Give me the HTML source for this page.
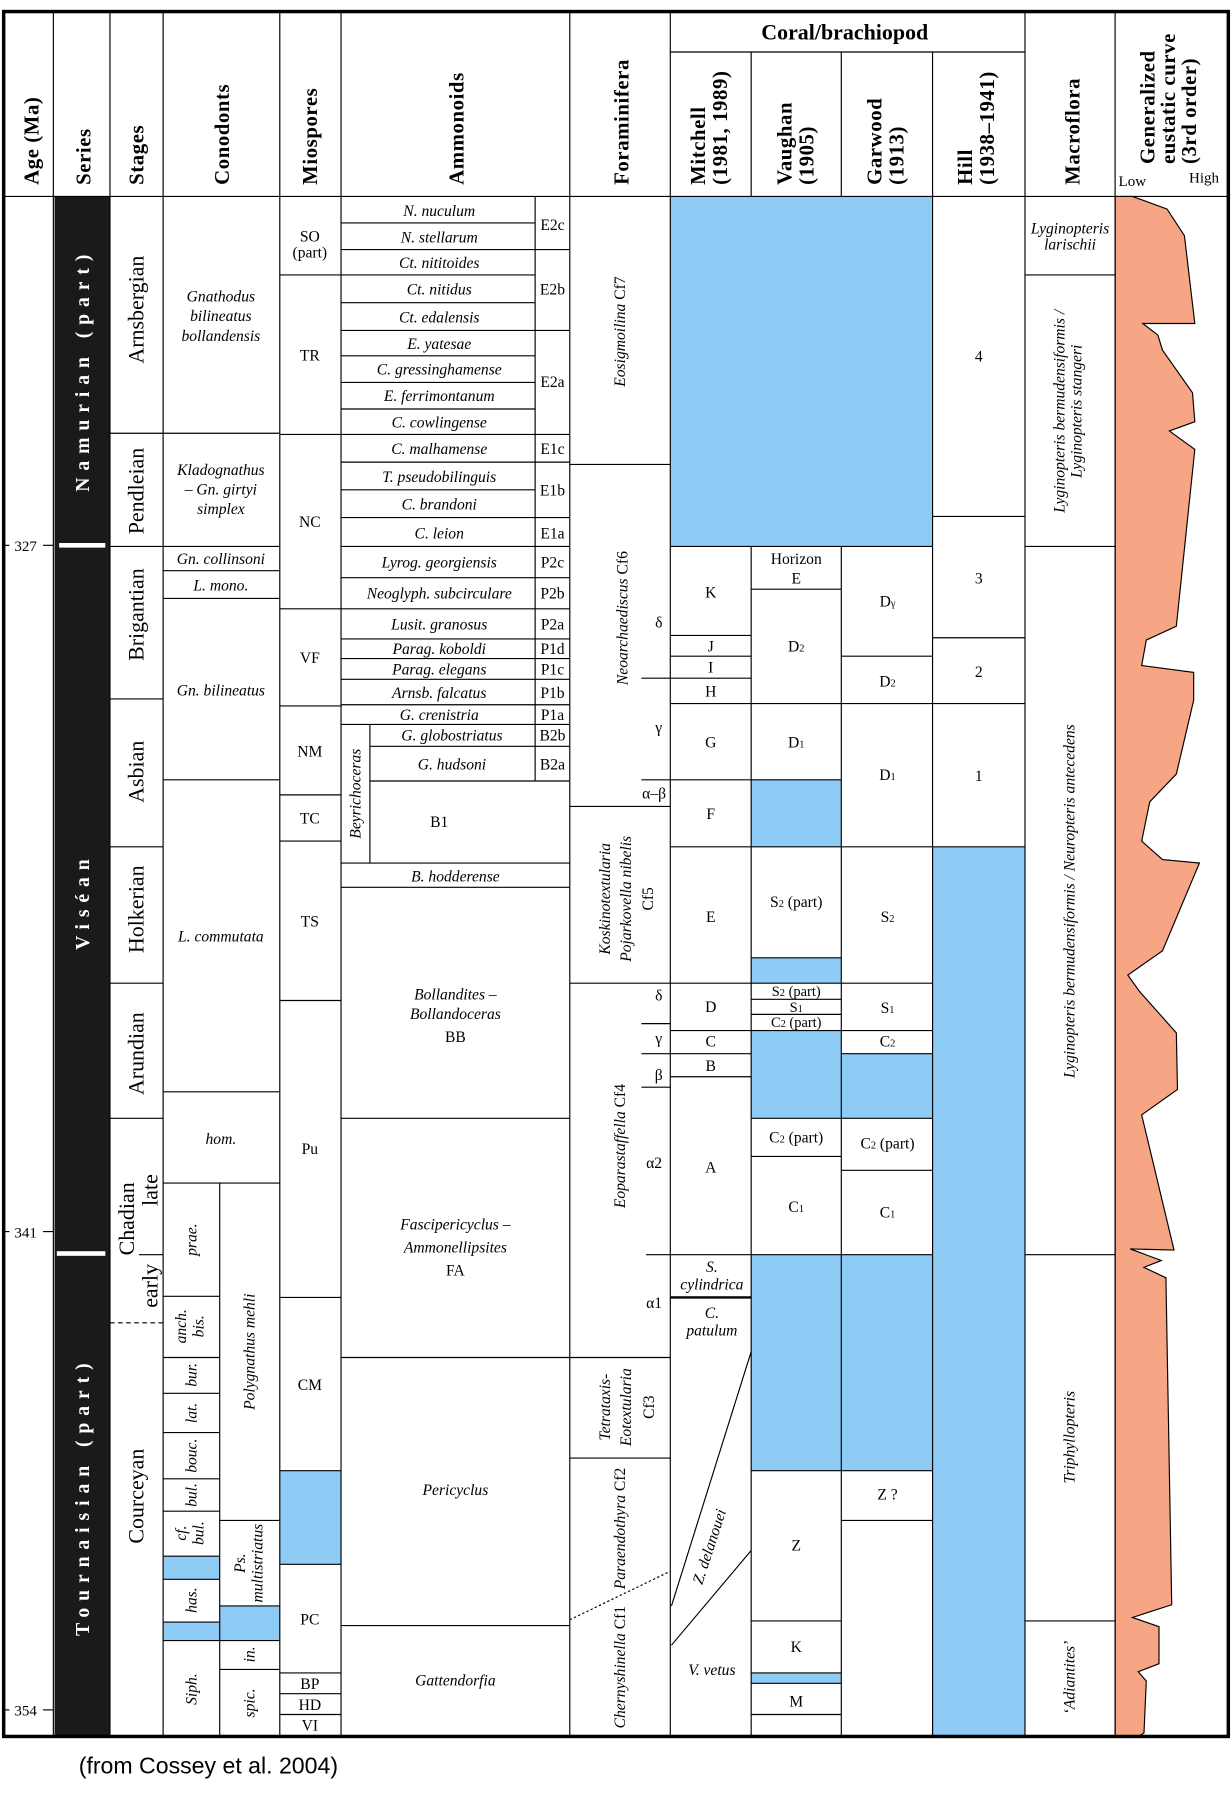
<!DOCTYPE html>
<html><head><meta charset="utf-8"><style>
html,body{margin:0;padding:0;background:#fff;}
svg{display:block;}
text{font-family:"Liberation Serif",serif;}
.h{font-size:18px;font-weight:bold;letter-spacing:0.5px;}
.c{font-size:13.5px;font-style:italic;}
.n{font-size:13.5px;}
.st{font-size:19px;}
.sr text{font-size:17px;font-weight:bold;fill:#fff;letter-spacing:6px;}
</style></head><body>
<svg width="1232" height="1800" viewBox="0 0 1066 1558" xmlns="http://www.w3.org/2000/svg">
<rect x="0" y="0" width="1066" height="1558" fill="#fff"/>
<g fill="#8ecbf5">
<rect x="580" y="170" width="227" height="303"/>
<rect x="650" y="675" width="78" height="58"/>
<rect x="650" y="829" width="78" height="22"/>
<rect x="650" y="892" width="78" height="76"/>
<rect x="728" y="912" width="79" height="56"/>
<rect x="650" y="1086" width="157" height="187"/>
<rect x="650" y="1448" width="78" height="9"/>
<rect x="807" y="733" width="80" height="770"/>
<rect x="141" y="1347" width="49" height="20"/>
<rect x="141" y="1404" width="49" height="16"/>
<rect x="190" y="1390" width="52" height="30"/>
<rect x="242" y="1273" width="53" height="81"/>
</g>
<rect x="47" y="170" width="48" height="1333" fill="#1a1a1a"/>
<rect x="51" y="470" width="40" height="4" fill="#fff"/>
<rect x="49" y="1083" width="42" height="4" fill="#fff"/>
<polygon fill="#f6a585" stroke="#000" stroke-width="1" points="965,170 980,170 1010,181 1025,204 1034,280 989,280 1002,290 1006,303 1032,340 1034,365 1012,373 1034,389 1018,542 992,554 988,576 1033,582 1033,606 1018,670 995,694 988,728 1006,744 1038,747 1006,823 976,844 986,858 1018,894 1019,943 988,965 1016,1082 978,1081 1005,1091 990,1097 1009,1106 1014,1389 980,1400 1003,1408 1003,1440 985,1447 992,1455 990,1500 985,1503 965,1503"/>
<g stroke="#000" stroke-width="1" fill="none">
<line x1="3" y1="170" x2="1063" y2="170"/>
<line x1="46" y1="10" x2="46" y2="1503"/>
<line x1="95" y1="10" x2="95" y2="1503"/>
<line x1="141" y1="10" x2="141" y2="1503"/>
<line x1="242" y1="10" x2="242" y2="1503"/>
<line x1="295" y1="10" x2="295" y2="1503"/>
<line x1="493" y1="10" x2="493" y2="1503"/>
<line x1="580" y1="10" x2="580" y2="1503"/>
<line x1="887" y1="10" x2="887" y2="1503"/>
<line x1="965" y1="10" x2="965" y2="1503"/>
<line x1="580" y1="45" x2="887" y2="45"/>
<line x1="650" y1="45" x2="650" y2="170"/><line x1="650" y1="473" x2="650" y2="1503"/>
<line x1="728" y1="45" x2="728" y2="170"/><line x1="728" y1="473" x2="728" y2="1503"/>
<line x1="807" y1="45" x2="807" y2="1503"/>
<line x1="95" y1="375" x2="141" y2="375"/><line x1="95" y1="473" x2="141" y2="473"/>
<line x1="95" y1="605" x2="141" y2="605"/><line x1="95" y1="733" x2="141" y2="733"/>
<line x1="95" y1="851" x2="141" y2="851"/><line x1="95" y1="968" x2="141" y2="968"/>
<line x1="120" y1="1086" x2="141" y2="1086"/>
<line x1="95" y1="1145" x2="141" y2="1145" stroke-dasharray="4,3"/>
<line x1="141" y1="375" x2="242" y2="375"/><line x1="141" y1="473" x2="242" y2="473"/>
<line x1="141" y1="494" x2="242" y2="494"/><line x1="141" y1="518" x2="242" y2="518"/>
<line x1="141" y1="675" x2="242" y2="675"/><line x1="141" y1="945" x2="242" y2="945"/>
<line x1="141" y1="1024" x2="242" y2="1024"/>
<line x1="190" y1="1024" x2="190" y2="1503"/>
<line x1="141" y1="1122" x2="190" y2="1122"/><line x1="141" y1="1175" x2="190" y2="1175"/>
<line x1="141" y1="1206" x2="190" y2="1206"/><line x1="141" y1="1240" x2="190" y2="1240"/>
<line x1="141" y1="1280" x2="190" y2="1280"/><line x1="141" y1="1308" x2="190" y2="1308"/>
<line x1="141" y1="1347" x2="190" y2="1347"/><line x1="141" y1="1367" x2="190" y2="1367"/>
<line x1="141" y1="1404" x2="190" y2="1404"/><line x1="141" y1="1420" x2="190" y2="1420"/>
<line x1="190" y1="1316" x2="242" y2="1316"/><line x1="190" y1="1390" x2="242" y2="1390"/>
<line x1="190" y1="1420" x2="242" y2="1420"/><line x1="190" y1="1445" x2="242" y2="1445"/>
<line x1="242" y1="238" x2="295" y2="238"/><line x1="242" y1="376" x2="295" y2="376"/>
<line x1="242" y1="527" x2="295" y2="527"/><line x1="242" y1="611" x2="295" y2="611"/>
<line x1="242" y1="688" x2="295" y2="688"/><line x1="242" y1="728" x2="295" y2="728"/>
<line x1="242" y1="866" x2="295" y2="866"/><line x1="242" y1="1123" x2="295" y2="1123"/>
<line x1="242" y1="1273" x2="295" y2="1273"/><line x1="242" y1="1354" x2="295" y2="1354"/>
<line x1="242" y1="1448" x2="295" y2="1448"/><line x1="242" y1="1466" x2="295" y2="1466"/>
<line x1="242" y1="1484" x2="295" y2="1484"/>
<line x1="463" y1="170" x2="463" y2="676"/>
<line x1="320" y1="627" x2="320" y2="747"/>
<line x1="295" y1="193" x2="463" y2="193"/><line x1="295" y1="238" x2="463" y2="238"/>
<line x1="295" y1="262" x2="463" y2="262"/><line x1="295" y1="308" x2="463" y2="308"/>
<line x1="295" y1="331" x2="463" y2="331"/><line x1="295" y1="354" x2="463" y2="354"/>
<line x1="295" y1="424" x2="463" y2="424"/>
<line x1="295" y1="216" x2="493" y2="216"/><line x1="295" y1="286" x2="493" y2="286"/>
<line x1="295" y1="376" x2="493" y2="376"/><line x1="295" y1="400" x2="493" y2="400"/>
<line x1="295" y1="448" x2="493" y2="448"/><line x1="295" y1="473" x2="493" y2="473"/>
<line x1="295" y1="500" x2="493" y2="500"/><line x1="295" y1="527" x2="493" y2="527"/>
<line x1="295" y1="553" x2="493" y2="553"/><line x1="295" y1="570" x2="493" y2="570"/>
<line x1="295" y1="588" x2="493" y2="588"/><line x1="295" y1="610" x2="493" y2="610"/>
<line x1="295" y1="627" x2="493" y2="627"/>
<line x1="320" y1="646" x2="493" y2="646"/><line x1="320" y1="676" x2="493" y2="676"/>
<line x1="295" y1="747" x2="493" y2="747"/><line x1="295" y1="768" x2="493" y2="768"/>
<line x1="295" y1="968" x2="493" y2="968"/><line x1="295" y1="1175" x2="493" y2="1175"/>
<line x1="295" y1="1407" x2="493" y2="1407"/>
<line x1="493" y1="402" x2="580" y2="402"/><line x1="493" y1="698" x2="580" y2="698"/>
<line x1="493" y1="851" x2="580" y2="851"/><line x1="493" y1="1175" x2="580" y2="1175"/>
<line x1="493" y1="1262" x2="580" y2="1262"/>
<line x1="493" y1="1402" x2="580" y2="1360" stroke-dasharray="2,2"/>
<line x1="555" y1="587" x2="580" y2="587"/><line x1="555" y1="675" x2="580" y2="675"/>
<line x1="555" y1="886" x2="580" y2="886"/><line x1="555" y1="912" x2="580" y2="912"/>
<line x1="555" y1="941" x2="580" y2="941"/>
<line x1="580" y1="473" x2="807" y2="473"/>
<line x1="580" y1="550" x2="650" y2="550"/><line x1="580" y1="568" x2="650" y2="568"/>
<line x1="580" y1="587" x2="650" y2="587"/><line x1="580" y1="609" x2="650" y2="609"/>
<line x1="580" y1="675" x2="650" y2="675"/><line x1="580" y1="733" x2="650" y2="733"/>
<line x1="580" y1="851" x2="650" y2="851"/><line x1="580" y1="892" x2="650" y2="892"/>
<line x1="580" y1="912" x2="650" y2="912"/><line x1="580" y1="932" x2="650" y2="932"/>
<line x1="559" y1="1086" x2="650" y2="1086"/>
<line x1="580" y1="1123" x2="650" y2="1123" stroke-width="2"/>
<line x1="581" y1="1390" x2="650" y2="1170"/>
<line x1="581" y1="1424" x2="650" y2="1342"/>
<line x1="650" y1="510" x2="728" y2="510"/><line x1="650" y1="609" x2="728" y2="609"/>
<line x1="650" y1="675" x2="728" y2="675"/><line x1="650" y1="733" x2="728" y2="733"/>
<line x1="650" y1="829" x2="728" y2="829"/><line x1="650" y1="851" x2="728" y2="851"/>
<line x1="650" y1="865" x2="728" y2="865"/><line x1="650" y1="878" x2="728" y2="878"/>
<line x1="650" y1="892" x2="728" y2="892"/><line x1="650" y1="968" x2="728" y2="968"/>
<line x1="650" y1="1001" x2="728" y2="1001"/><line x1="650" y1="1086" x2="728" y2="1086"/>
<line x1="650" y1="1273" x2="728" y2="1273"/><line x1="650" y1="1403" x2="728" y2="1403"/>
<line x1="650" y1="1448" x2="728" y2="1448"/><line x1="650" y1="1457" x2="728" y2="1457"/>
<line x1="650" y1="1484" x2="728" y2="1484"/>
<line x1="728" y1="568" x2="807" y2="568"/><line x1="728" y1="609" x2="807" y2="609"/>
<line x1="728" y1="733" x2="807" y2="733"/><line x1="728" y1="851" x2="807" y2="851"/>
<line x1="728" y1="892" x2="807" y2="892"/><line x1="728" y1="912" x2="807" y2="912"/>
<line x1="728" y1="968" x2="807" y2="968"/><line x1="728" y1="1013" x2="807" y2="1013"/>
<line x1="728" y1="1086" x2="807" y2="1086"/><line x1="728" y1="1273" x2="807" y2="1273"/>
<line x1="728" y1="1316" x2="807" y2="1316"/>
<line x1="807" y1="447" x2="887" y2="447"/><line x1="807" y1="552" x2="887" y2="552"/>
<line x1="807" y1="609" x2="887" y2="609"/><line x1="807" y1="733" x2="887" y2="733"/>
<line x1="887" y1="238" x2="965" y2="238"/><line x1="887" y1="473" x2="965" y2="473"/>
<line x1="887" y1="1086" x2="965" y2="1086"/><line x1="887" y1="1403" x2="965" y2="1403"/>
<line x1="3" y1="472" x2="8" y2="472"/><line x1="37" y1="472" x2="46" y2="472"/>
<line x1="3" y1="1066" x2="8" y2="1066"/><line x1="37" y1="1066" x2="46" y2="1066"/>
<line x1="3" y1="1480" x2="8" y2="1480"/><line x1="37" y1="1480" x2="46" y2="1480"/>
</g>
<rect x="3" y="10" width="1060" height="1493" fill="none" stroke="#000" stroke-width="3"/>

<g class="h">
<text transform="translate(33,160) rotate(-90)">Age (Ma)</text>
<text transform="translate(78,160) rotate(-90)">Series</text>
<text transform="translate(124,160) rotate(-90)">Stages</text>
<text transform="translate(198,160) rotate(-90)">Conodonts</text>
<text transform="translate(274,160) rotate(-90)">Miospores</text>
<text transform="translate(401,160) rotate(-90)">Ammonoids</text>
<text transform="translate(544,160) rotate(-90)">Foraminifera</text>
<text transform="translate(610,160) rotate(-90)">Mitchell</text>
<text transform="translate(629,160) rotate(-90)">(1981, 1989)</text>
<text transform="translate(685,160) rotate(-90)">Vaughan</text>
<text transform="translate(704,160) rotate(-90)">(1905)</text>
<text transform="translate(763,160) rotate(-90)">Garwood</text>
<text transform="translate(782,160) rotate(-90)">(1913)</text>
<text transform="translate(841,160) rotate(-90)">Hill</text>
<text transform="translate(860,160) rotate(-90)">(1938–1941)</text>
<text transform="translate(934,160) rotate(-90)">Macroflora</text>
<text transform="translate(999,142) rotate(-90)">Generalized</text>
<text transform="translate(1017,142) rotate(-90)">eustatic curve</text>
<text transform="translate(1035,142) rotate(-90)">(3rd order)</text>
</g>
<text x="731" y="34" text-anchor="middle" style="font-size:19px;font-weight:bold">Coral/brachiopod</text>
<text x="968" y="161" style="font-size:13px">Low</text>
<text x="1029" y="158" style="font-size:13px">High</text>

<g style="font-size:13px">
<text x="22" y="477" text-anchor="middle">327</text>
<text x="22" y="1071" text-anchor="middle">341</text>
<text x="22" y="1485" text-anchor="middle">354</text>
</g>

<g class="sr">
<text transform="translate(77,320) rotate(-90)" text-anchor="middle" fill="#fff">Namurian (part)</text>
<text transform="translate(77,780) rotate(-90)" text-anchor="middle" fill="#fff">Viséan</text>
<text transform="translate(77,1295) rotate(-90)" text-anchor="middle" fill="#fff">Tournaisian (part)</text>
</g>

<g class="st" text-anchor="middle">
<text transform="translate(124,268) rotate(-90)">Arnsbergian</text>
<text transform="translate(124,425) rotate(-90)">Pendleian</text>
<text transform="translate(124,532) rotate(-90)">Brigantian</text>
<text transform="translate(124,668) rotate(-90)">Asbian</text>
<text transform="translate(124,787) rotate(-90)">Holkerian</text>
<text transform="translate(124,912) rotate(-90)">Arundian</text>
<text transform="translate(116,1055) rotate(-90)">Chadian</text>
<text transform="translate(136,1030) rotate(-90)">late</text>
<text transform="translate(136,1113) rotate(-90)">early</text>
<text transform="translate(124,1295) rotate(-90)">Courceyan</text>
</g>

<g class="c" text-anchor="middle">
<text x="191" y="261">Gnathodus</text>
<text x="191" y="278">bilineatus</text>
<text x="191" y="295">bollandensis</text>
<text x="191" y="411">Kladognathus</text>
<text x="191" y="428">– Gn. girtyi</text>
<text x="191" y="445">simplex</text>
<text x="191" y="488">Gn. collinsoni</text>
<text x="191" y="511">L. mono.</text>
<text x="191" y="602">Gn. bilineatus</text>
<text x="191" y="815">L. commutata</text>
<text x="191" y="990">hom.</text>
<text transform="translate(170,1073) rotate(-90)">prae.</text>
<text transform="translate(161,1148) rotate(-90)">anch.</text>
<text transform="translate(176,1148) rotate(-90)">bis.</text>
<text transform="translate(170,1190) rotate(-90)">bur.</text>
<text transform="translate(170,1223) rotate(-90)">lat.</text>
<text transform="translate(170,1260) rotate(-90)">bouc.</text>
<text transform="translate(170,1294) rotate(-90)">bul.</text>
<text transform="translate(161,1327) rotate(-90)">cf.</text>
<text transform="translate(176,1327) rotate(-90)">bul.</text>
<text transform="translate(170,1385) rotate(-90)">has.</text>
<text transform="translate(170,1462) rotate(-90)">Siph.</text>
<text transform="translate(220,1170) rotate(-90)">Polygnathus mehli</text>
<text transform="translate(212,1353) rotate(-90)">Ps.</text>
<text transform="translate(227,1353) rotate(-90)">multistriatus</text>
<text transform="translate(220,1432) rotate(-90)">in.</text>
<text transform="translate(220,1474) rotate(-90)">spic.</text>
</g>

<g class="n" text-anchor="middle">
<text x="268" y="209">SO</text>
<text x="268" y="223">(part)</text>
<text x="268" y="312">TR</text>
<text x="268" y="456">NC</text>
<text x="268" y="574">VF</text>
<text x="268" y="655">NM</text>
<text x="268" y="713">TC</text>
<text x="268" y="802">TS</text>
<text x="268" y="999">Pu</text>
<text x="268" y="1203">CM</text>
<text x="268" y="1406">PC</text>
<text x="268" y="1462">BP</text>
<text x="268" y="1480">HD</text>
<text x="268" y="1498">VI</text>
</g>

<g class="c" text-anchor="middle">
<text x="380" y="187">N. nuculum</text>
<text x="380" y="210">N. stellarum</text>
<text x="380" y="232">Ct. nititoides</text>
<text x="380" y="255">Ct. nitidus</text>
<text x="380" y="279">Ct. edalensis</text>
<text x="380" y="302">E. yatesae</text>
<text x="380" y="324">C. gressinghamense</text>
<text x="380" y="347">E. ferrimontanum</text>
<text x="380" y="370">C. cowlingense</text>
<text x="380" y="393">C. malhamense</text>
<text x="380" y="417">T. pseudobilinguis</text>
<text x="380" y="441">C. brandoni</text>
<text x="380" y="466">C. leion</text>
<text x="380" y="491">Lyrog. georgiensis</text>
<text x="380" y="518">Neoglyph. subcirculare</text>
<text x="380" y="545">Lusit. granosus</text>
<text x="380" y="566">Parag. koboldi</text>
<text x="380" y="584">Parag. elegans</text>
<text x="380" y="604">Arnsb. falcatus</text>
<text x="380" y="623">G. crenistria</text>
<text x="391" y="641">G. globostriatus</text>
<text x="391" y="666">G. hudsoni</text>
<text x="394" y="763">B. hodderense</text>
<text x="394" y="865">Bollandites –</text>
<text x="394" y="882">Bollandoceras</text>
<text x="394" y="1064">Fascipericyclus –</text>
<text x="394" y="1084">Ammonellipsites</text>
<text x="394" y="1294">Pericyclus</text>
<text x="394" y="1459">Gattendorfia</text>
<text transform="translate(312,687) rotate(-90)">Beyrichoceras</text>
</g>
<g class="n" text-anchor="middle">
<text x="380" y="716">B1</text>
<text x="394" y="902">BB</text>
<text x="394" y="1104">FA</text>
<text x="478" y="199">E2c</text>
<text x="478" y="255">E2b</text>
<text x="478" y="335">E2a</text>
<text x="478" y="393">E1c</text>
<text x="478" y="429">E1b</text>
<text x="478" y="466">E1a</text>
<text x="478" y="491">P2c</text>
<text x="478" y="518">P2b</text>
<text x="478" y="545">P2a</text>
<text x="478" y="566">P1d</text>
<text x="478" y="584">P1c</text>
<text x="478" y="604">P1b</text>
<text x="478" y="623">P1a</text>
<text x="478" y="641">B2b</text>
<text x="478" y="666">B2a</text>
</g>

<g class="c" text-anchor="middle">
<text transform="translate(541,287) rotate(-90)"><tspan>Eosigmoilina</tspan><tspan font-style="normal">    Cf7</tspan></text>
<text transform="translate(543,535) rotate(-90)"><tspan>Neoarchaediscus</tspan><tspan font-style="normal">    Cf6</tspan></text>
<text transform="translate(528,778) rotate(-90)">Koskinotextularia</text>
<text transform="translate(546,778) rotate(-90)">Pojarkovella nibelis</text>
<text transform="translate(565,778) rotate(-90)" font-style="normal">Cf5</text>
<text transform="translate(541,992) rotate(-90)"><tspan>Eoparastaffella</tspan><tspan font-style="normal">    Cf4</tspan></text>
<text transform="translate(528,1218) rotate(-90)">Tetrataxis-</text>
<text transform="translate(546,1218) rotate(-90)">Eotextularia</text>
<text transform="translate(566,1218) rotate(-90)" font-style="normal">Cf3</text>
<text transform="translate(541,1323) rotate(-90)"><tspan>Paraendothyra</tspan><tspan font-style="normal">    Cf2</tspan></text>
<text transform="translate(541,1443) rotate(-90)"><tspan>Chernyshinella</tspan><tspan font-style="normal">    Cf1</tspan></text>
</g>
<g class="n" text-anchor="middle">
<text x="570" y="543">δ</text>
<text x="570" y="634">γ</text>
<text x="566" y="691">α–β</text>
<text x="570" y="866">δ</text>
<text x="570" y="903">γ</text>
<text x="570" y="935">β</text>
<text x="566" y="1011">α2</text>
<text x="566" y="1132">α1</text>
</g>

<g class="n" text-anchor="middle">
<text x="615" y="517">K</text>
<text x="615" y="564">J</text>
<text x="615" y="582">I</text>
<text x="615" y="603">H</text>
<text x="615" y="647">G</text>
<text x="615" y="709">F</text>
<text x="615" y="798">E</text>
<text x="615" y="876">D</text>
<text x="615" y="906">C</text>
<text x="615" y="927">B</text>
<text x="615" y="1015">A</text>
</g>
<g class="c" text-anchor="middle">
<text x="616" y="1101">S.</text>
<text x="616" y="1116">cylindrica</text>
<text x="616" y="1141">C.</text>
<text x="616" y="1156">patulum</text>
<text transform="translate(618,1340) rotate(-72)">Z. delanouei</text>
<text x="616" y="1450">V. vetus</text>
</g>

<g class="n" text-anchor="middle">
<text x="689" y="488">Horizon</text>
<text x="689" y="505">E</text>
<text x="689" y="564">D<tspan font-size="9">2</tspan></text>
<text x="689" y="647">D<tspan font-size="9">1</tspan></text>
<text x="689" y="785">S<tspan font-size="9">2</tspan> (part)</text>
<text x="689" y="862" font-size="12.5">S<tspan font-size="9">2</tspan> (part)</text>
<text x="689" y="876" font-size="12.5">S<tspan font-size="9">1</tspan></text>
<text x="689" y="889" font-size="12.5">C<tspan font-size="9">2</tspan> (part)</text>
<text x="689" y="989">C<tspan font-size="9">2</tspan> (part)</text>
<text x="689" y="1049">C<tspan font-size="9">1</tspan></text>
<text x="689" y="1342">Z</text>
<text x="689" y="1430">K</text>
<text x="689" y="1477">M</text>
</g>
<g class="n" text-anchor="middle">
<text x="768" y="525">D<tspan font-size="9">γ</tspan></text>
<text x="768" y="594">D<tspan font-size="9">2</tspan></text>
<text x="768" y="675">D<tspan font-size="9">1</tspan></text>
<text x="768" y="798">S<tspan font-size="9">2</tspan></text>
<text x="768" y="877">S<tspan font-size="9">1</tspan></text>
<text x="768" y="906">C<tspan font-size="9">2</tspan></text>
<text x="768" y="994">C<tspan font-size="9">2</tspan> (part)</text>
<text x="768" y="1054">C<tspan font-size="9">1</tspan></text>
<text x="768" y="1298">Z ?</text>
</g>
<g class="n" text-anchor="middle">
<text x="847" y="313">4</text>
<text x="847" y="505">3</text>
<text x="847" y="586">2</text>
<text x="847" y="676">1</text>
</g>
<g class="c" text-anchor="middle">
<text x="926" y="202">Lyginopteris</text>
<text x="926" y="216">larischii</text>
<text transform="translate(921,356) rotate(-90)">Lyginopteris bermudensiformis /</text>
<text transform="translate(936,356) rotate(-90)">Lyginopteris stangeri</text>
<text transform="translate(930,780) rotate(-90)">Lyginopteris bermudensiformis / Neuropteris antecedens</text>
<text transform="translate(930,1244) rotate(-90)">Triphyllopteris</text>
<text transform="translate(930,1452) rotate(-90)">‘Adiantites’</text>
</g>

<text x="68" y="1535" style="font-family:'Liberation Sans',sans-serif;font-size:20px">(from Cossey et al. 2004)</text>
</svg>
</body></html>
